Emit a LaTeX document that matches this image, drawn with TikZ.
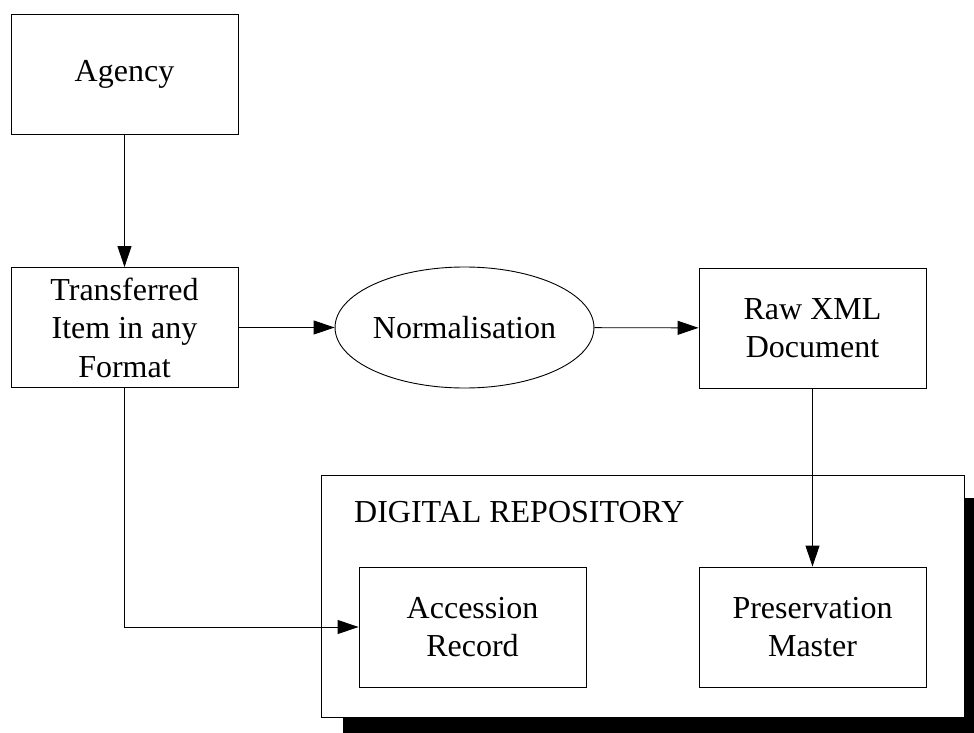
\documentclass[tikz,border=0pt]{standalone}
\usepackage{fontspec}
\setmainfont{Liberation Serif}
\usetikzlibrary{arrows.meta,shapes.geometric}
\begin{document}
\begin{tikzpicture}[x=1pt,y=-1pt,
  lbl/.style={font=\fontsize{32}{38.5}\selectfont},
  box/.style={lbl, draw, line width=0.9pt, rectangle, minimum width=227pt, minimum height=120pt, inner sep=0pt, align=center, fill=white},
  ell/.style={lbl, draw, line width=0.9pt, ellipse, minimum width=227pt, minimum height=121pt, inner sep=0pt, fill=white},
  frame/.style={draw, line width=0.9pt, rectangle, minimum width=643pt, minimum height=242pt, inner sep=0pt, fill=white},
  conn/.style={line width=0.9pt, -{Triangle[length=21pt,width=14pt]}}]
\useasboundingbox (0,0) rectangle (974,733);
% shadow of the repository
\fill[black] (343,498) rectangle (974,733);
\node[frame] (repo) at (642.5,596) {};
\node[lbl, anchor=base west, inner sep=0pt] (repolabel) at (354,522) {DIGITAL REPOSITORY};
\node[box] (agency) at (124.5,74) {Agency};
\node[box] (trans) at (124.5,327.5) {Transferred\\Item in any\\Format};
\node[ell] (norm) at (464.5,327.5) {Normalisation};
\node[box] (raw) at (812.5,328) {Raw XML\\Document};
\node[box] (acc) at (472.5,627) {Accession\\Record};
\node[box] (pres) at (812.5,627) {Preservation\\Master};
\draw[conn] (agency) -- (trans);
\draw[conn] (trans) -- (norm);
\draw[conn] (norm) -- (raw);
\draw[conn] (raw) -- (pres);
\draw[conn] (trans.south) |- (acc.west);
\end{tikzpicture}
\end{document}
